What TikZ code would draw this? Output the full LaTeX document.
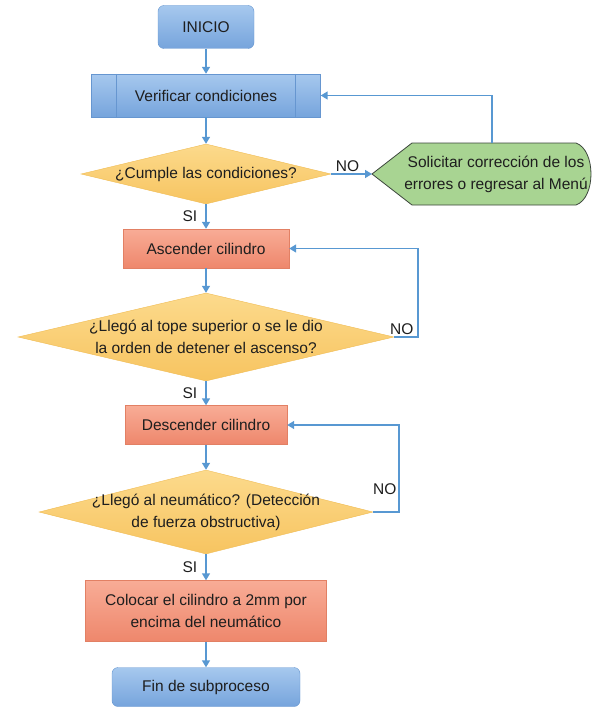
\documentclass[tikz,border=0pt]{standalone}
\usepackage{fontspec}
\setmainfont{Liberation Sans}
\usetikzlibrary{shapes.geometric,arrows.meta,calc,backgrounds}
\definecolor{blueedge}{RGB}{102,150,208}
\definecolor{bluetop}{RGB}{166,200,238}
\definecolor{bluebot}{RGB}{118,164,220}
\definecolor{salmonedge}{RGB}{226,128,100}
\definecolor{salmontop}{RGB}{248,172,150}
\definecolor{salmonbot}{RGB}{238,135,108}
\definecolor{goldedge}{RGB}{240,188,84}
\definecolor{goldtop}{RGB}{252,218,140}
\definecolor{goldbot}{RGB}{247,196,96}
\definecolor{greenfill}{RGB}{168,212,146}
\definecolor{greenedge}{RGB}{60,70,60}
\definecolor{arrowblue}{RGB}{88,152,210}
\definecolor{inkgray}{RGB}{30,30,30}

\begin{document}
\begin{tikzpicture}[x=1pt,y=-1pt,
    every node/.style={font=\fontsize{15.5}{22}\selectfont,text=inkgray,align=center},
    flow/.style={draw=arrowblue,line width=1.5pt,-{Triangle[length=7pt,width=8pt]}},
    terminal/.style={rectangle,rounded corners=6pt,draw=blueedge,top color=bluetop,bottom color=bluebot,inner sep=0pt},
    predef/.style={rectangle,draw=blueedge,top color=bluetop,bottom color=bluebot,inner sep=0pt},
    action/.style={rectangle,draw=salmonedge,top color=salmontop,bottom color=salmonbot,inner sep=0pt},
    decision/.style={diamond,draw=goldedge,top color=goldtop,bottom color=goldbot,inner sep=0pt},
    fixshape/.style={draw=greenedge,fill=greenfill,line width=0.8pt},
    answer/.style={inner sep=2pt},
  ]
  \useasboundingbox (0,0) rectangle (600,709);

  % top of the chart
  \node[terminal,minimum width=96pt,minimum height=43pt] (start) at (206,27) {INICIO};
  \node[predef,minimum width=229pt,minimum height=43pt] (check) at (206,95.5) {Verificar condiciones};
  \draw[blueedge] ([xshift=25pt]check.north west)--([xshift=25pt]check.south west);
  \draw[blueedge] ([xshift=-26pt]check.north east)--([xshift=-26pt]check.south east);
  \node[decision,minimum width=250pt,minimum height=60pt] (ask1) at (206,174) {};
  \node (ask1txt) at (ask1) {¿Cumple las condiciones?};

  % correction branch
  \node (fix) at (496,174) {Solicitar corrección de los\\errores o regresar al Menú};
  \begin{scope}[on background layer]
    \draw[fixshape] ($(fix)+(-124,0)$)--($(fix)+(-84,-31)$)--($(fix)+(80,-31)$)
      .. controls ($(fix)+(100,-24)$) and ($(fix)+(100,24)$) .. ($(fix)+(80,31)$)
      --($(fix)+(-84,31)$)--cycle;
  \end{scope}
  \coordinate (fixtip) at ($(fix)+(-124,0)$);
  \coordinate (fixtop) at ($(fix)+(-4,-31)$);

  % cylinder steps
  \node[action,minimum width=166pt,minimum height=39pt] (up) at (206,248.5) {Ascender cilindro};
  \node[decision,minimum width=376pt,minimum height=88pt] (ask2) at (206,337) {};
  \node (ask2txt) at (ask2) {¿Llegó al tope superior o se le dio\\la orden de detener el ascenso?};
  \node[action,minimum width=162pt,minimum height=39pt] (down) at (206,425) {Descender cilindro};
  \node[decision,minimum width=334pt,minimum height=84pt] (ask3) at (206,512) {};
  \node (ask3txt) at (ask3) {¿Llegó al neumático? (Detección\\de fuerza obstructiva)};
  \node[action,minimum width=241pt,minimum height=61pt] (place) at (206,611) {Colocar el cilindro a 2mm por\\encima del neumático};
  \node[terminal,minimum width=188pt,minimum height=39pt] (stop) at (206,687) {Fin de subproceso};

  % connectors
  \draw[flow] (start)--(check);
  \draw[flow] (check)--(ask1);
  \draw[flow] (ask1.east)--node[answer,above,pos=0.4]{NO}(fixtip);
  \draw[flow] (fixtop)|-(check.east);
  \draw[flow] (ask1)--node[answer,left,xshift=-6pt]{SI}(up);
  \draw[flow] (up)--(ask2);
  \draw[flow] (ask2.east)--++(24,0)node[answer,above left,xshift=-2pt]{NO}|-(up.east);
  \draw[flow] (ask2)--node[answer,left,xshift=-6pt]{SI}(down);
  \draw[flow] (down)--(ask3);
  \draw[flow] (ask3.east)--++(26,0)|-node[answer,left,pos=0.13]{NO}(down.east);
  \draw[flow] (ask3)--node[answer,left,xshift=-6pt]{SI}(place);
  \draw[flow] (place)--(stop);
\end{tikzpicture}
\end{document}
